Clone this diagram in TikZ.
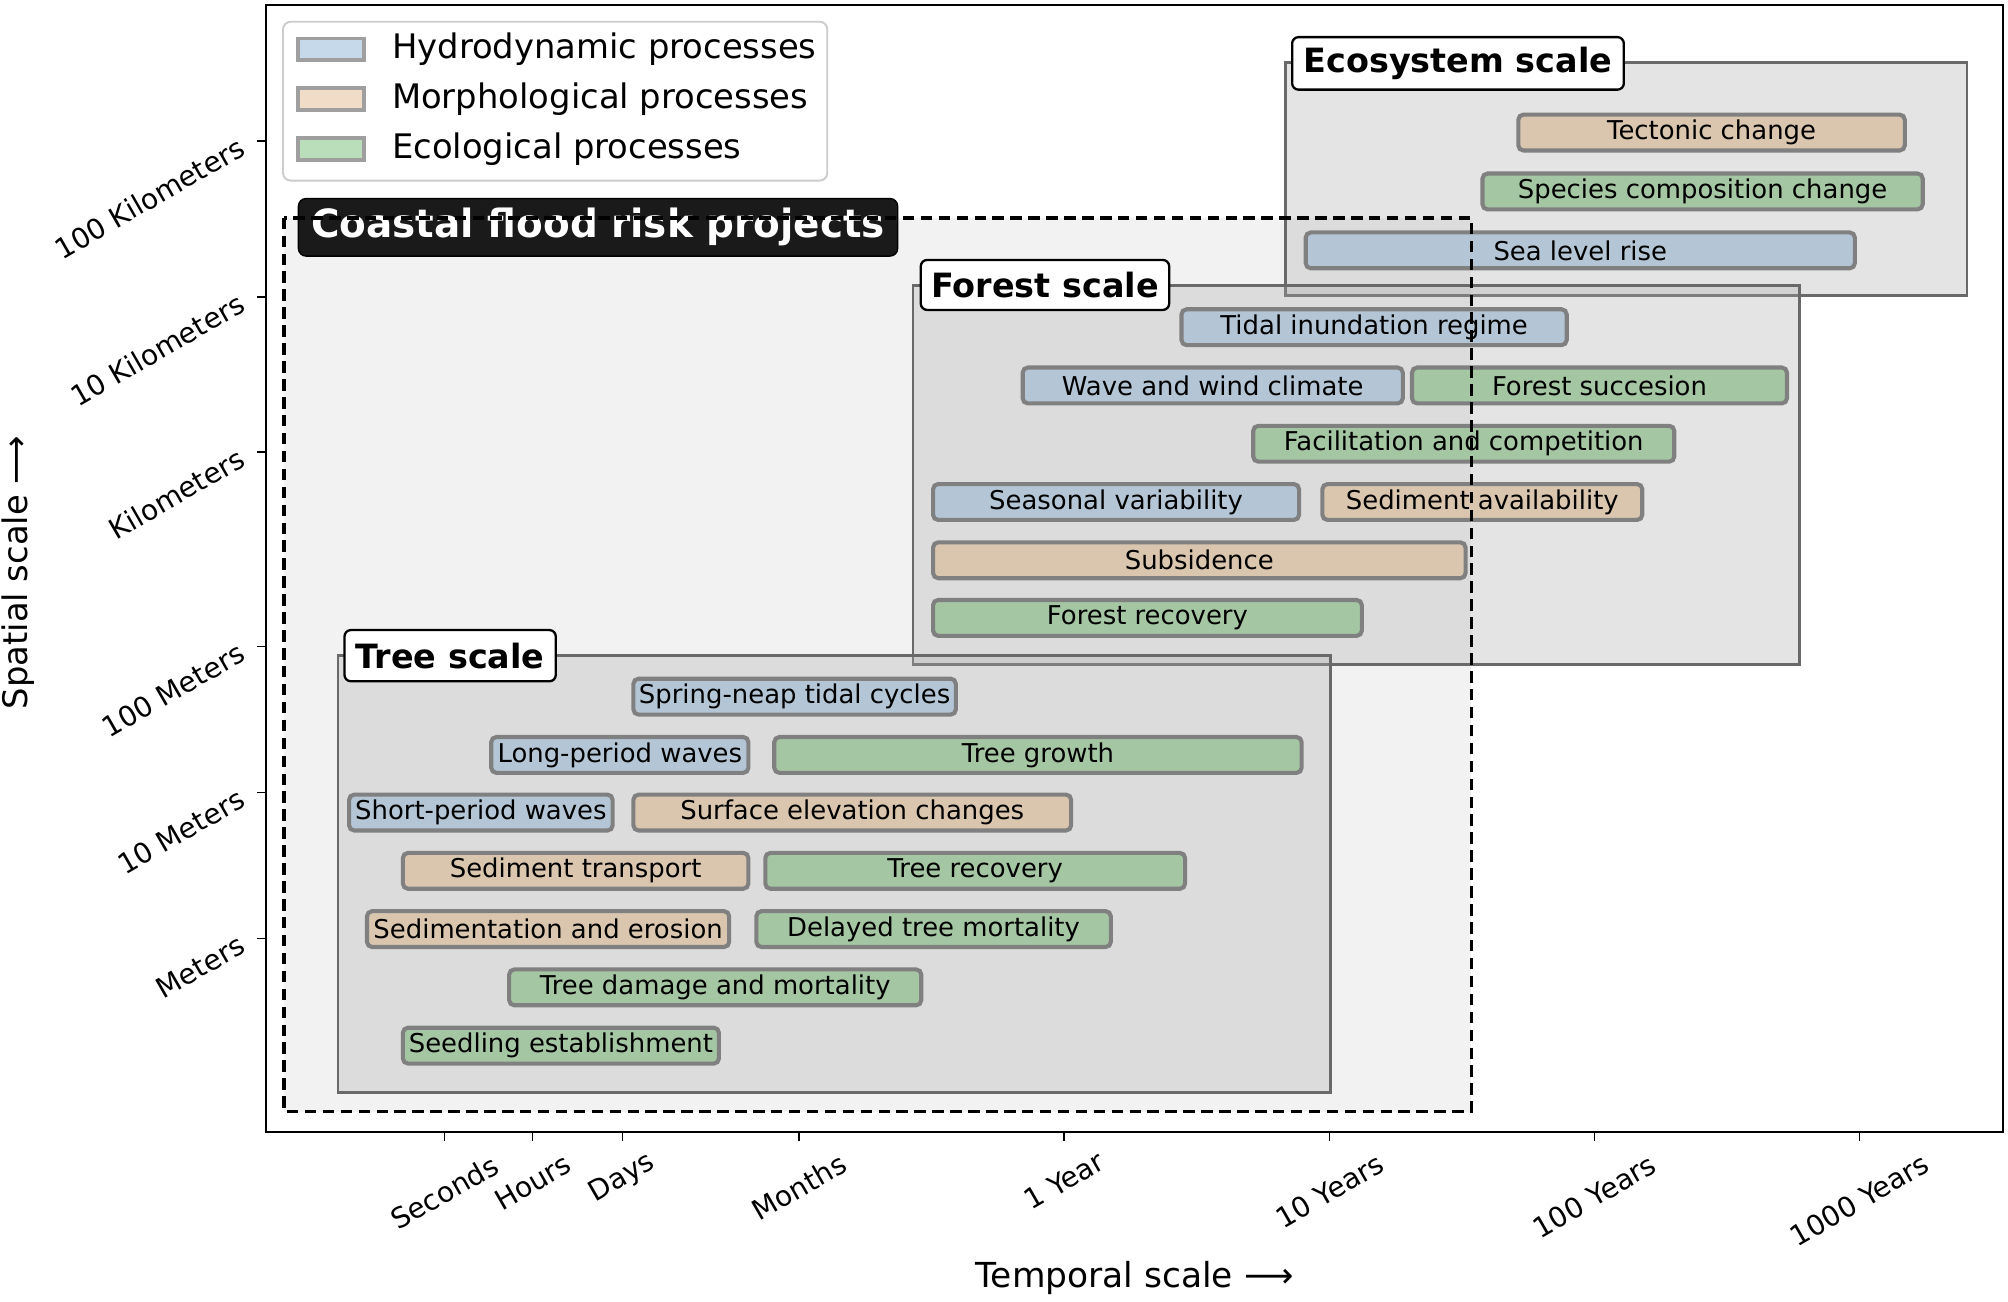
\documentclass[tikz,border=0pt]{standalone}
\usepackage{fontspec}
\setmainfont{DejaVu Sans}
\definecolor{hydro}{RGB}{180,198,214}
\definecolor{morph}{RGB}{218,198,174}
\definecolor{eco}{RGB}{165,198,163}
\definecolor{hydroL}{RGB}{198,217,234}
\definecolor{morphL}{RGB}{240,220,199}
\definecolor{ecoL}{RGB}{186,221,186}
\definecolor{edgegray}{RGB}{128,128,128}
\definecolor{panelgray}{RGB}{105,105,105}
\definecolor{coastfill}{RGB}{242,242,242}
\definecolor{labelblack}{RGB}{26,26,26}
\definecolor{legendedge}{RGB}{204,204,204}
\newcommand\setfs[1]{\fontsize{#1}{#1}\selectfont}
\newcommand\procbox[6]{%
  \node[procbox,#2,minimum width={(#4-#3-3.2)*1bp}] (#1) at ({(#3+#4)/2},#5) {#6};}
\begin{document}
\begin{tikzpicture}[x=1bp,y=-1bp,
  procbox/.style={rectangle,rounded corners=4bp,draw=edgegray,line width=3.2bp,
    inner sep=0pt,minimum height=28bp,font=\setfs{20.3}},
  hyd/.style={fill=hydro},
  mor/.style={fill=morph},
  ecol/.style={fill=eco},
  panel/.style={draw=panelgray,line width=2.2bp,fill=black!33,fill opacity=0.31},
  scaletitle/.style={rectangle,rounded corners=5bp,draw=black,line width=1.8bp,
    fill=white,inner sep=0pt,font=\setfs{26.2}\bfseries},
  ticklabel/.style={font=\setfs{22},inner sep=0pt,rotate=30},
  legpatch/.style={rectangle,draw=gray!75,line width=3bp,minimum width=52bp,
    minimum height=17bp,inner sep=0pt},
  legtext/.style={anchor=west,inner sep=0pt,font=\setfs{26.5}},
  coastline/.style={draw=black,line width=2.9bp,dash pattern=on 9bp off 5bp}
]
\useasboundingbox (0,0) rectangle (1568,1016);
\fill[white] (0,0) rectangle (1568,1016);

% coastal region fill
\fill[coastfill] (222,170) rectangle (1149,868);

% panels
\draw[panel] (1004,49) rectangle (1536,231);
\draw[panel] (713,223) rectangle (1405,519);
\draw[panel] (264,512) rectangle (1039,853);

% scale titles
\node[scaletitle,minimum width=259bp,minimum height=41bp] (ecotitle) at (1138.5,49.5) {Ecosystem scale};
\node[scaletitle,minimum width=194bp,minimum height=39bp] (foresttitle) at (816,222.5) {Forest scale};
\node[scaletitle,minimum width=165bp,minimum height=40bp] (treetitle) at (351.5,512) {Tree scale};

% ecosystem processes
\procbox{tectonic}{mor}{1184}{1489}{103.5}{Tectonic change}
\procbox{species}{ecol}{1156}{1503}{149.5}{Species composition change}
\procbox{sealevel}{hyd}{1018}{1450}{195.5}{Sea level rise}

% forest processes
\procbox{tidal}{hyd}{921}{1225}{255.5}{Tidal inundation regime}
\procbox{wave}{hyd}{797}{1097}{301}{Wave and wind climate}
\procbox{succ}{ecol}{1101}{1397}{301}{Forest succesion}
\procbox{facil}{ecol}{977}{1309}{346.5}{Facilitation and competition}
\procbox{season}{hyd}{727}{1016}{392}{Seasonal variability}
\procbox{sedavail}{mor}{1031}{1284}{392}{Sediment availability}
\procbox{subs}{mor}{727}{1146}{437.5}{Subsidence}
\procbox{frecov}{ecol}{727}{1065}{482.5}{Forest recovery}

% tree processes
\procbox{spring}{hyd}{493}{748}{544}{Spring-neap tidal cycles}
\procbox{longwave}{hyd}{382}{586}{589.5}{Long-period waves}
\procbox{growth}{ecol}{603}{1018}{589.5}{Tree growth}
\procbox{shortwave}{hyd}{271}{480}{634.5}{Short-period waves}
\procbox{surface}{mor}{493}{838}{634.5}{Surface elevation changes}
\procbox{sedtrans}{mor}{313}{586}{680}{Sediment transport}
\procbox{trecov}{ecol}{596}{927}{680}{Tree recovery}
\procbox{sedero}{mor}{285}{571}{725.5}{Sedimentation and erosion}
\procbox{delayed}{ecol}{589}{869}{725.5}{Delayed tree mortality}
\procbox{damage}{ecol}{396}{721}{771}{Tree damage and mortality}
\procbox{seedling}{ecol}{313}{563}{816.5}{Seedling establishment}

% legend
\draw[draw=legendedge,line width=1.5bp,fill=white,rounded corners=6bp] (221,17) rectangle (646,141);
\node[legpatch,fill=hydroL] (lp1) at (258.5,38.5) {};
\node[legpatch,fill=morphL] (lp2) at (258.5,77.5) {};
\node[legpatch,fill=ecoL] (lp3) at (258.5,116.5) {};
\node[legtext] (lt1) at (306,38.5) {Hydrodynamic processes};
\node[legtext] (lt2) at (306,77.5) {Morphological processes};
\node[legtext] (lt3) at (306,116.5) {Ecological processes};

% coastal label
\node[rectangle,rounded corners=6bp,fill=labelblack,draw=black,line width=1bp,
  minimum width=468bp,minimum height=45bp,inner sep=0pt,text=white,
  font=\setfs{30.5}\bfseries] (coasttitle) at (467,177.5) {Coastal flood risk projects};

% coastal dashed border on top
\draw[coastline] (222,170) rectangle (1149,868);

% axes frame
\draw[line width=1.6bp] (208,4) rectangle (1564,884);

% y ticks
\foreach \yy/\tt/\nn in {110/100 Kilometers/ya,232/10 Kilometers/yb,353/Kilometers/yc,
    505/100 Meters/yd,619/10 Meters/ye,733/Meters/yf}{
  \draw[line width=1.1bp] (208,\yy) -- (201,\yy);
  \node[ticklabel,anchor=east] (\nn) at (189,\yy+3) {\tt};
}
% x ticks
\foreach \xx/\tt/\cy/\nn in {347/Seconds/931/xa,416/Hours/923/xb,486/Days/920/xc,
    624/Months/927/xd,831/1 Year/922/xe,1038/10 Years/930/xf,
    1245/100 Years/934/xg,1452/1000 Years/937/xh}{
  \draw[line width=1.1bp] (\xx,884) -- (\xx,891);
  \node[ticklabel,anchor=center] (\nn) at (\xx,\cy) {\tt};
}

% axis titles
\node[inner sep=0pt,font=\setfs{27}] (xtitle) at (886,998) {Temporal scale ⟶};
\node[inner sep=0pt,font=\setfs{26.5},rotate=90] (ytitle) at (14,447) {Spatial scale ⟶};
\end{tikzpicture}
\end{document}
